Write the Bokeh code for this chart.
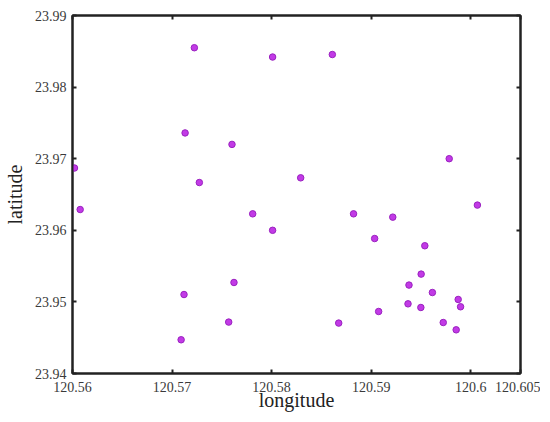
from bokeh.plotting import figure
from bokeh.models import Range1d, FixedTicker, LinearAxis, ColumnDataSource
from bokeh.embed import file_html
from bokeh.resources import INLINE

lon = [120.5602, 120.56077, 120.57224, 120.5801, 120.57131, 120.57602, 120.57274,
       120.5781, 120.5801, 120.5712, 120.57622, 120.57569, 120.57091, 120.5861,
       120.58292, 120.59784, 120.60067, 120.58823, 120.59217, 120.59035, 120.59539,
       120.59502, 120.5938, 120.59615, 120.59874, 120.59898, 120.5937, 120.59499,
       120.59075, 120.58674, 120.59724, 120.59854]
lat = [23.9687, 23.9629, 23.9855, 23.9842, 23.9736, 23.9720, 23.96667,
       23.9623, 23.9600, 23.95103, 23.95271, 23.94718, 23.94471, 23.98455,
       23.96733, 23.9700, 23.96352, 23.9623, 23.96184, 23.95885, 23.95784,
       23.95388, 23.95235, 23.95131, 23.95034, 23.94932, 23.94973, 23.94922,
       23.94866, 23.94704, 23.94712, 23.9461]

x_ticks = [120.56, 120.57, 120.58, 120.59, 120.6, 120.605]
x_tick_labels = ["120.56", "120.57", "120.58", "120.59", "120.6", "120.605"]
y_ticks = [23.94, 23.95, 23.96, 23.97, 23.98, 23.99]
y_tick_labels = ["23.94", "23.95", "23.96", "23.97", "23.98", "23.99"]

FONT = "Liberation Serif"
AX = "#222222"

p = figure(width=540, height=420, output_backend="svg", toolbar_location=None,
           x_range=Range1d(120.56, 120.605), y_range=Range1d(23.94, 23.99),
           min_border_left=68, min_border_right=20, min_border_top=15,
           min_border_bottom=47, title=None)
p.grid.grid_line_color = None
p.outline_line_color = AX
p.outline_line_width = 2
p.background_fill_color = "white"
p.border_fill_color = "white"

src = ColumnDataSource(dict(lon=lon, lat=lat))
p.scatter("lon", "lat", source=src, size=6.5, fill_color="#C23AE6",
          line_color="#9A22C0", line_width=1)

def style(ax, ticks, labels, show):
    ax.ticker = FixedTicker(ticks=ticks)
    ax.major_tick_in = 4
    ax.major_tick_out = 0
    ax.minor_tick_line_color = None
    ax.major_tick_line_color = AX
    ax.major_tick_line_width = 2
    ax.axis_line_color = AX
    ax.axis_line_width = 2
    ax.major_label_text_font = FONT
    ax.major_label_text_color = "#3a3a3a"
    ax.major_label_text_font_size = "14px"
    ax.axis_label_text_font = FONT
    ax.axis_label_text_font_size = "20px"
    ax.axis_label_text_font_style = "normal"
    ax.axis_label_text_color = "#222222"
    if show:
        ax.major_label_overrides = {t: l for t, l in zip(ticks, labels)}
    else:
        ax.major_label_overrides = {t: "" for t in ticks}
        ax.major_label_standoff = 0

style(p.xaxis[0], x_ticks, x_tick_labels, True)
style(p.yaxis[0], y_ticks, y_tick_labels, True)
p.xaxis[0].major_label_standoff = 8
p.yaxis[0].major_label_standoff = 6
p.xaxis[0].axis_label = "longitude"
p.yaxis[0].axis_label = "latitude"
p.xaxis[0].axis_label_standoff = -6
p.yaxis[0].axis_label_standoff = 6

top = LinearAxis()
right = LinearAxis()
p.add_layout(top, "above")
p.add_layout(right, "right")
style(top, x_ticks, x_tick_labels, False)
style(right, y_ticks, y_tick_labels, False)

open("out.html", "w").write(file_html(p, INLINE))
